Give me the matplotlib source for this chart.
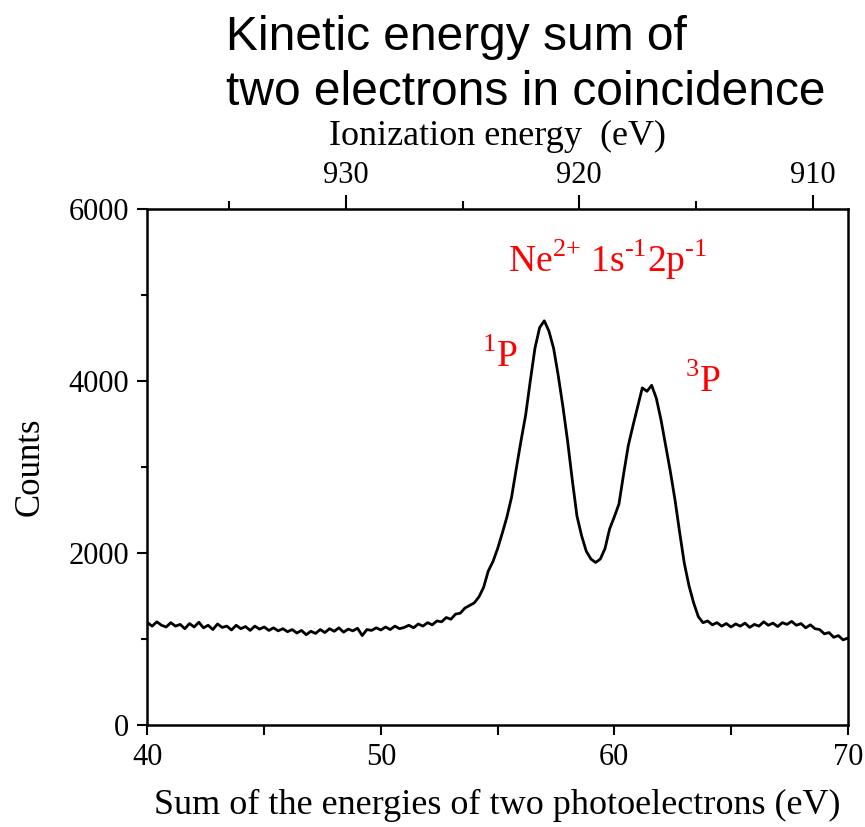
import numpy as np
import matplotlib
matplotlib.use("Agg")
import matplotlib.pyplot as plt
from matplotlib.ticker import FixedLocator, MultipleLocator

# coincidence spectrum, 0.2 eV steps from 40 to 70 eV
energy_sum = np.linspace(40.0, 70.0, 151)
counts = [
    # 40.0 - 44.8
    1190, 1150, 1200, 1160, 1140, 1190, 1150, 1170, 1120, 1180,
    1140, 1195, 1130, 1160, 1110, 1175, 1135, 1150, 1105, 1160,
    1120, 1145, 1100, 1150, 1115,
    # 45.0 - 49.8
    1140, 1100, 1130, 1095, 1120, 1085, 1110, 1070, 1100, 1050,
    1090, 1065, 1110, 1075, 1120, 1090, 1130, 1080, 1115, 1095,
    1125, 1040, 1110, 1100, 1130,
    # 50.0 - 53.8
    1105, 1140, 1110, 1150, 1120, 1135, 1160, 1130, 1175, 1150,
    1190, 1165, 1210, 1200, 1250, 1230, 1290, 1300, 1360, 1390,
    # 54.0 - 56.8
    1420, 1490, 1600, 1790, 1900, 2050, 2230, 2420, 2650, 2980,
    3300, 3600, 4000, 4380, 4620,
    # 57.0 - 63.8
    4700, 4580, 4380, 4060, 3700, 3300, 2850, 2430, 2200, 2020,
    1930, 1890, 1930, 2050, 2280, 2420, 2570, 2920, 3250, 3480,
    3700, 3920, 3880, 3950, 3800, 3550, 3250, 2950, 2620, 2240,
    1880, 1620, 1420, 1260, 1190,
    # 64.0 - 70.0
    1210, 1165, 1190, 1150, 1180, 1140, 1175, 1150, 1185, 1135,
    1170, 1150, 1200, 1160, 1185, 1145, 1190, 1170, 1205, 1160,
    1180, 1130, 1165, 1120, 1110, 1060, 1075, 1020, 1040, 990,
    1010,
]

photon_offset = 978.5  # ionization energy = offset - kinetic energy sum
top_ticks = [930, 920, 910]
top_minor = [935, 925, 915]

serif = ["Liberation Serif", "DejaVu Serif"]
plt.rcParams["font.family"] = serif
plt.rcParams["mathtext.fontset"] = "custom"
plt.rcParams["mathtext.rm"] = "Liberation Serif"

fig = plt.figure(figsize=(8.65, 8.27), dpi=100)
ax = fig.add_axes([0.1705, 0.1233, 0.8095, 0.6240])

ax.plot(energy_sum, counts, color="black", lw=2.0)
ax.set_xlim(40, 70)
ax.set_ylim(0, 6000)
ax.set_xticks([40, 50, 60, 70])
ax.xaxis.set_minor_locator(MultipleLocator(5))
ax.set_yticks([0, 2000, 4000, 6000])
ax.yaxis.set_minor_locator(MultipleLocator(1000))

for sp in ax.spines.values():
    sp.set_linewidth(1.8)
ax.tick_params(which="major", length=7, width=1.5, labelsize=22, direction="out", pad=6)
ax.tick_params(which="minor", length=4, width=1.5, direction="out")
ax.tick_params(axis="x", which="both", length=7)

ax.set_xlabel("Sum of the energies of two photoelectrons (eV)", fontsize=26, labelpad=12)
ax.set_ylabel("Counts", fontsize=25, labelpad=16)

top = ax.secondary_xaxis("top", functions=(lambda x: photon_offset - x,
                                           lambda x: photon_offset - x))
top.xaxis.set_major_locator(FixedLocator(top_ticks))
top.xaxis.set_minor_locator(FixedLocator(top_minor))
top.tick_params(which="major", length=10, width=1.5, labelsize=22, direction="out")
top.tick_params(which="minor", length=6, width=1.5, direction="out")
top.set_xlabel("Ionization energy  (eV)", fontsize=26, labelpad=12)

ax.text(59.7, 5267, r"Ne$^{\text{2+}}$ 1s$^{\text{-1}}$2p$^{\text{-1}}$",
        color="red", fontsize=27, ha="center", va="baseline")
ax.text(54.35, 4163, r"$^{\text{1}}$P", color="red", fontsize=27, va="baseline")
ax.text(63.03, 3872, r"$^{\text{3}}$P", color="red", fontsize=27, va="baseline")

fig.text(226 / 865, 1 - 50 / 827, "Kinetic energy sum of", fontsize=34.5,
         family=["Liberation Sans", "DejaVu Sans"], va="baseline")
fig.text(226 / 865, 1 - 105 / 827, "two electrons in coincidence", fontsize=34.5,
         family=["Liberation Sans", "DejaVu Sans"], va="baseline")

fig.savefig("out.png", dpi=100)
